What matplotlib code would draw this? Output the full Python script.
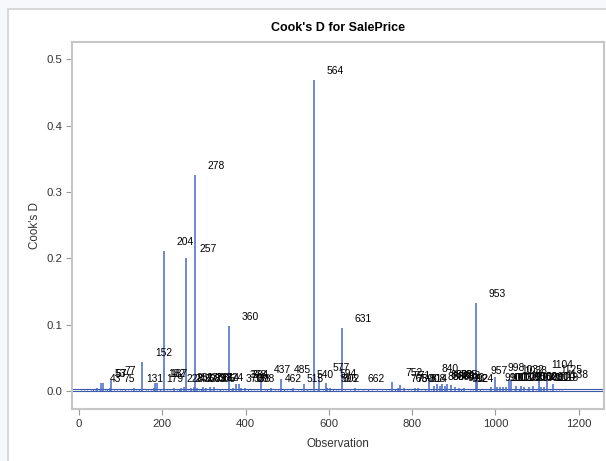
import matplotlib.pyplot as plt
from matplotlib.patches import Rectangle

plt.rcParams['font.family'] = ['Liberation Sans', 'DejaVu Sans']

#> Observations flagged above the 4/n cutoff, with their Cook's D
lab_obs = [43, 53, 57, 75, 77, 131, 152, 179, 182, 187, 204, 228, 246, 251, 268, 275,
           283, 297, 305, 324, 314, 257, 278, 360, 370, 378, 384, 388, 398, 437, 462,
           485, 515, 540, 564, 577, 594, 596, 602, 631, 662, 752, 765, 771, 780, 808,
           814, 840, 853, 860, 866, 872, 878, 885, 893, 903, 912, 924, 953, 957, 990,
           998, 1003, 1010, 1018, 1025, 1032, 1038, 1050, 1062, 1070, 1080, 1090,
           1104, 1110, 1118, 1125, 1138]
lab_d = [0.005, 0.012, 0.012, 0.005, 0.017, 0.005, 0.044, 0.005, 0.012, 0.012, 0.211,
         0.005, 0.005, 0.006, 0.005, 0.006, 0.005, 0.006, 0.005, 0.006, 0.006, 0.201,
         0.326, 0.098, 0.005, 0.011, 0.011, 0.005, 0.005, 0.018, 0.005, 0.018, 0.005,
         0.011, 0.469, 0.021, 0.012, 0.005, 0.005, 0.095, 0.005, 0.014, 0.005, 0.009,
         0.005, 0.005, 0.005, 0.019, 0.008, 0.011, 0.008, 0.011, 0.008, 0.010, 0.009,
         0.006, 0.005, 0.005, 0.133, 0.017, 0.006, 0.021, 0.006, 0.006, 0.006, 0.006,
         0.018, 0.016, 0.007, 0.008, 0.006, 0.006, 0.007, 0.026, 0.006, 0.006, 0.018,
         0.010]

#> Remaining observations (below cutoff)
small_obs = [5, 12, 20, 28, 34, 38, 47, 63, 68, 85, 92, 98, 104, 110, 118, 124, 137, 143,
             160, 166, 172, 195, 212, 219, 236, 241, 262, 288, 292, 301, 318, 332, 338,
             345, 352, 366, 405, 414, 420, 428, 446, 452, 470, 478, 493, 500, 508, 527,
             533, 548, 555, 571, 585, 609, 616, 622, 640, 650, 671, 683, 695, 704, 716,
             728, 737, 745, 758, 790, 797, 822, 830, 846, 880, 918, 940, 946, 963, 970,
             978, 985, 1044, 1056, 1076, 1097, 1114, 1131, 1145, 1152, 1160]
small_d = [0.001, 0.002, 0.001, 0.002, 0.003, 0.001, 0.002, 0.001, 0.003, 0.002, 0.001,
           0.002, 0.001, 0.003, 0.002, 0.001, 0.002, 0.003, 0.001, 0.002, 0.001, 0.003,
           0.002, 0.001, 0.002, 0.003, 0.001, 0.002, 0.003, 0.001, 0.002, 0.001, 0.003,
           0.002, 0.001, 0.002, 0.003, 0.001, 0.002, 0.001, 0.002, 0.003, 0.001, 0.002,
           0.003, 0.001, 0.002, 0.001, 0.002, 0.003, 0.001, 0.002, 0.001, 0.003, 0.002,
           0.001, 0.002, 0.001, 0.002, 0.001, 0.003, 0.001, 0.002, 0.001, 0.002, 0.001,
           0.003, 0.002, 0.001, 0.002, 0.003, 0.001, 0.002, 0.003, 0.001, 0.002, 0.003,
           0.001, 0.002, 0.001, 0.002, 0.003, 0.001, 0.002, 0.001, 0.002, 0.001, 0.002,
           0.001]

cutoff = 4 / 1168
xticks = [0, 200, 400, 600, 800, 1000, 1200]
yticks = [0.0, 0.1, 0.2, 0.3, 0.4, 0.5]

needle = '#4668c8'
grey = '#c6c6c6'

fig = plt.figure(figsize=(6.06, 4.61), dpi=100, facecolor='#f7f8fc')
# white panel with thin grey border behind the plot
fig.patches.append(Rectangle((8 / 606, -0.05), 1.1, (461 - 9) / 461 + 0.05,
                             transform=fig.transFigure, facecolor='white',
                             edgecolor='#d2d2d2', linewidth=1.2, zorder=-5))

ax = fig.add_axes([72 / 606, 52 / 461, 532 / 606, 367 / 461])
ax.set_zorder(2)
ax.set_facecolor('white')

ax.axhline(0, color='#3d5aa8', lw=0.8, zorder=1)
ax.axhline(cutoff, color='#3d5aa8', lw=0.8, zorder=1)
ax.vlines(small_obs, 0, small_d, color=needle, lw=0.9, zorder=2)
ax.vlines(lab_obs, 0, lab_d, color=needle, lw=1.1, zorder=2)

for o, d in zip(lab_obs, lab_d):
    ax.annotate(str(o), (o, d), xytext=(13, 9), textcoords='offset pixels',
                ha='left', va='center', fontsize=7.4, color='black', zorder=3)

ax.set_xlim(-17, 1261)
ax.set_ylim(-0.027, 0.526)
ax.set_xticks(xticks)
ax.set_yticks(yticks)
ax.set_yticklabels([f'{v:.1f}' for v in yticks])
ax.tick_params(length=4, width=0.8, color='#9a9a9a', labelcolor='#333333',
               labelsize=8.2, pad=3)
for s in ax.spines.values():
    s.set_color(grey)
    s.set_linewidth(1.5)

ax.set_xlabel('Observation', fontsize=8.4, color='#333333', labelpad=7)
ax.set_ylabel("Cook's D", fontsize=8.4, color='#333333', labelpad=4)
ax.set_title("Cook's D for SalePrice", fontsize=9, fontweight='bold', pad=8)

fig.savefig('out.png', dpi=100, facecolor=fig.get_facecolor())
